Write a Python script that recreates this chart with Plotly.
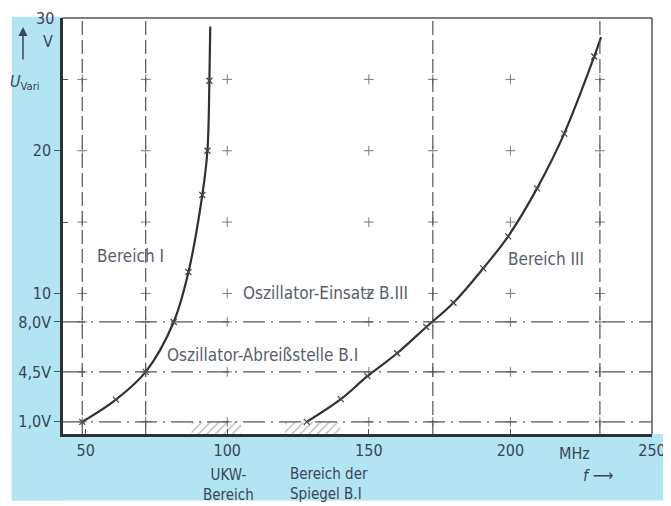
import plotly.graph_objects as go

# ---- Daten ---------------------------------------------------------
# Bereich I: Abstimmspannung über Oszillatorfrequenz
f_b1 = [48.8, 60.7, 71.2, 81.1, 86.3, 91.2, 93.0, 93.7, 94.0]
u_b1 = [1.0, 2.56, 4.5, 8.0, 11.5, 16.9, 20.0, 24.9, 28.7]

# Bereich III
f_b3 = [128.1, 140.1, 149.5, 160.0, 170.3, 179.9, 190.4, 199.2, 209.4, 219.0, 229.6, 232.0]
u_b3 = [1.0, 2.59, 4.2, 5.81, 7.65, 9.35, 11.76, 14.0, 17.36, 21.2, 26.6, 27.96]

# Hilfslinien
v_lines = [48.8, 71.2, 172.6, 231.6]        # MHz
h_lines = [1.0, 4.5, 8.0]                   # V
grid_f = [48.8, 71.2, 100, 150, 172.6, 200, 231.6]
grid_u = [1.0, 4.5, 8.0, 10, 15, 20, 25]

# schraffierte Bänder (UKW, Spiegel B.I)
band_ukw = [87.4, 104.9]
band_spiegel = [120.4, 140.0]

x_ticks = [50, 100, 150, 200, 250]
y_ticks = [1.0, 4.5, 8.0, 10, 20]
y_ticktext = ["1,0V", "4,5V", "8,0V", "10", "20"]

X_RANGE = [42, 250]
Y_RANGE = [0.15, 29.3]

FONT = "DejaVu Sans Condensed, Liberation Sans Narrow, Roboto, sans-serif"
INK = "#3a4654"
LINE = "#2e3236"
CYAN = "#b2e4f2"

fig = go.Figure()

# Hintergrund-Streifen (Scan)
for x0, y0, x1, y1 in [(-0.087, -0.16, 0, 1.003), (-0.087, -0.16, 1.04, 0)]:
    fig.add_shape(type="rect", xref="paper", yref="paper", x0=x0, y0=y0, x1=x1, y1=y1,
                  fillcolor=CYAN, line=dict(width=0), layer="below")

# schraffierte Bereiche
for a, b in [band_ukw, band_spiegel]:
    fig.add_trace(go.Scatter(x=[a, b, b, a, a], y=[Y_RANGE[0], Y_RANGE[0], 1.0, 1.0, Y_RANGE[0]],
        mode="lines", fill="toself", fillcolor="rgba(0,0,0,0)", line=dict(width=0),
        fillpattern=dict(shape="/", fgcolor="#6a6a6a", bgcolor="rgba(0,0,0,0)", size=6, solidity=0.2),
        showlegend=False, hoverinfo="skip"))

for v in v_lines:
    fig.add_vline(x=v, line=dict(color="#555", width=1.2, dash="14px,5px"))
for h in h_lines:
    fig.add_hline(y=h, line=dict(color="#555", width=1.2, dash="22px,6px,2px,6px"))

# Gitterkreuze
gx = [f for u in grid_u for f in grid_f]
gy = [u for u in grid_u for f in grid_f]
fig.add_trace(go.Scatter(x=gx, y=gy, mode="markers", showlegend=False, hoverinfo="skip",
    marker=dict(symbol="cross-thin", size=7, line=dict(color="#7a7a7a", width=1))))

# Kurven
for f, u in [(f_b1, u_b1), (f_b3, u_b3)]:
    fig.add_trace(go.Scatter(x=f, y=u, mode="lines", line=dict(color=LINE, width=2.2, shape="spline"),
                             showlegend=False))
    fig.add_trace(go.Scatter(x=f[:-1], y=u[:-1], mode="markers", showlegend=False,
        marker=dict(symbol="x-thin", size=6, color="#444", line=dict(color="#444", width=1.2))))

# Beschriftungen im Diagramm
txt = dict(family=FONT, size=17, color="#56606c")
fig.add_annotation(x=66, y=12.6, text="Bereich I", showarrow=False, font=txt,
                   xanchor="center", yanchor="middle")
fig.add_annotation(x=105, y=10, text="Oszillator-Einsatz B.III", showarrow=False,
                   xanchor="left", yanchor="middle", font=txt)
fig.add_annotation(x=77.9, y=5.7, text="Oszillator-Abreißstelle B.I", showarrow=False,
                   xanchor="left", yanchor="middle", font=txt, bgcolor="white")
fig.add_annotation(x=198.6, y=12.4, text="Bereich III", showarrow=False,
                   xanchor="left", yanchor="middle", font=txt)

lab = dict(family=FONT, size=16, color=INK)
low = dict(family=FONT, size=15, color=INK)
fig.add_annotation(x=100.4, xref="x", y=0, yref="paper", yshift=-51, text="UKW-<br>Bereich",
                   showarrow=False, font=low, xanchor="center", yanchor="middle")
fig.add_annotation(x=121.4, xref="x", y=0, yref="paper", yshift=-50, xanchor="left",
                   yanchor="middle", align="left",
                   text="Bereich der<br>Spiegel B.I", showarrow=False, font=low)
fig.add_annotation(x=222.5, xref="x", y=0, yref="paper", yshift=-19, text="MHz",
                   showarrow=False, font=lab, xanchor="center", yanchor="middle")
fig.add_annotation(x=225, xref="x", y=0, yref="paper", yshift=-41, xanchor="left",
                   yanchor="middle", text="<i>f</i> ⟶", showarrow=False, font=lab)

# y-Achsenkopf
fig.add_annotation(x=0, xref="paper", y=1, yref="paper", xshift=-7, xanchor="right",
                   yanchor="middle", text="30", showarrow=False, font=lab)
fig.add_annotation(x=0, xref="paper", y=1, yref="paper", xshift=-15, yshift=-23,
                   xanchor="center", yanchor="middle", text="V", showarrow=False, font=lab)
fig.add_annotation(x=0, xref="paper", y=1, yref="paper", xshift=-55, yshift=-64, xanchor="left",
                   yanchor="middle", text="<i>U</i><sub>Vari</sub>", showarrow=False,
                   font=dict(family=FONT, size=16, color=INK))
fig.add_annotation(x=0, xref="paper", y=1, yref="paper", xshift=-40, yshift=-9,
                   ax=0, ay=34, text="", showarrow=True, arrowhead=2, arrowsize=1.2,
                   arrowwidth=1.5, arrowcolor=INK)

# Rahmen oben/rechts
fig.add_shape(type="line", xref="paper", yref="paper", x0=0, y0=1, x1=1, y1=1,
              line=dict(color="#555", width=1.5))
fig.add_shape(type="line", xref="paper", yref="paper", x0=1, y0=0, x1=1, y1=1,
              line=dict(color="#555", width=1.5))

fig.update_xaxes(range=X_RANGE, tickvals=x_ticks, showgrid=False, zeroline=False, automargin=False,
                 showline=True, linecolor=LINE, linewidth=2.5, ticks="inside", ticklen=5,
                 tickcolor="#555", tickfont=dict(family=FONT, size=16, color=INK))
fig.update_yaxes(range=Y_RANGE, tickvals=y_ticks, ticktext=y_ticktext, showgrid=False,
                 zeroline=False, showline=True, linecolor=LINE, linewidth=2.5, ticks="outside",
                 automargin=False, ticklen=6, tickcolor="#555",
                 tickfont=dict(family=FONT, size=16, color=INK),
                 minor=dict(tickvals=[15, 25], ticks="inside", ticklen=5, tickcolor="#555"))

# die Seite hat 8 px Rand: Figur entsprechend kleiner
fig.update_layout(width=663, height=498, paper_bgcolor="white", plot_bgcolor="white",
                  margin=dict(l=55, r=19, t=10, b=72), showlegend=False)

fig.write_html("out.html")
